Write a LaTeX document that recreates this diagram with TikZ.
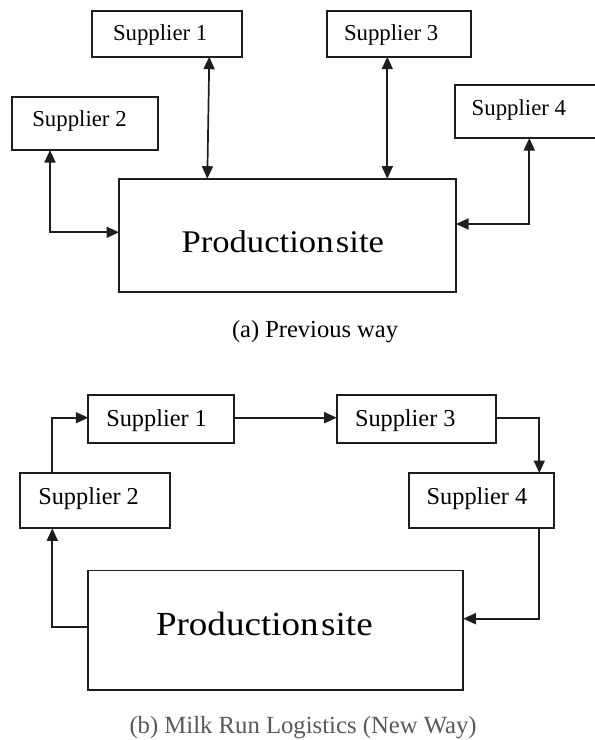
\documentclass[tikz,border=0pt]{standalone}
\usepackage{fontspec}
\setmainfont{Liberation Serif}
\newfontfamily\prodfont[FakeStretch=1.1]{Liberation Serif}
\usetikzlibrary{arrows.meta}
\definecolor{linec}{HTML}{1E1E1E}
\definecolor{capgray}{HTML}{595959}
\begin{document}
\begin{tikzpicture}[x=1pt,y=-1pt,
  box/.style={draw=linec, line width=1.7pt, rectangle, inner sep=0pt, outer sep=0pt, anchor=north west},
  lbl/.style={inner sep=0pt, outer sep=0pt, anchor=base west, text=black},
  suptop/.style={lbl, font=\fontsize{22.8pt}{27pt}\selectfont},
  supbot/.style={lbl, font=\fontsize{24.3pt}{29pt}\selectfont},
  conn/.style={draw=linec, line width=1.7pt},
  >={Triangle[length=12.5pt,width=11pt]}]
\useasboundingbox (0,0) rectangle (595,740);
\clip (0,0) rectangle (595,740);
\fill[white] (0,0) rectangle (595,740);

% ---------- (a) previous way ----------
\node[box, minimum width=149.4pt, minimum height=45.7pt] (s1a) at (92.3,11) {};
\node[box, minimum width=144pt,   minimum height=45.7pt] (s3a) at (327,11) {};
\node[box, minimum width=145.7pt, minimum height=52.7pt] (s2a) at (12,97.3) {};
\node[box, minimum width=165pt,   minimum height=52.7pt] (s4a) at (455.3,85.3) {};
\node[box, minimum width=337pt,   minimum height=113.6pt] (pa) at (119,178.7) {};

\node[suptop] (t1a) at (113,40.7) {Supplier 1};
\node[suptop] (t2a) at (32.3,126.7) {Supplier 2};
\node[suptop] (t3a) at (344,40.7) {Supplier 3};
\node[suptop] (t4a) at (471.7,115) {Supplier 4};
\node[lbl, font=\prodfont\fontsize{31.5pt}{36pt}\selectfont] (tpa) at (181.5,252) {Production\hspace{-0.2em} site};

\draw[conn, <->] ([xshift=117pt]s1a.south west) -- ([xshift=88.3pt]pa.north west);
\draw[conn, <->] ([xshift=60.3pt]s3a.south west) -- ([xshift=268.3pt]pa.north west);
\draw[conn, <->] ([xshift=38pt]s2a.south west) |- ([yshift=-53.6pt]pa.north west);
\draw[conn, <->] ([xshift=74pt]s4a.south west) |- ([yshift=-45.3pt]pa.north east);

\node[lbl, font=\fontsize{24.5pt}{29pt}\selectfont] (capa) at (232,337) {(a) Previous way};

% ---------- (b) milk run ----------
\node[box, minimum width=145.4pt, minimum height=48pt]   (s1b) at (88.3,395.3) {};
\node[box, minimum width=159pt,   minimum height=48pt]   (s3b) at (336.7,395.3) {};
\node[box, minimum width=149.4pt, minimum height=55.3pt] (s2b) at (20.3,473) {};
\node[box, minimum width=145.3pt, minimum height=55.3pt] (s4b) at (408.7,473) {};
\node[box, minimum width=375pt,   minimum height=119.2pt] (pb) at (88.3,570.5) {};

\node[supbot] (t1b) at (106.3,426.7) {Supplier 1};
\node[supbot] (t2b) at (38.3,504) {Supplier 2};
\node[supbot] (t3b) at (355,426.7) {Supplier 3};
\node[supbot] (t4b) at (426.7,504) {Supplier 4};
\node[lbl, font=\prodfont\fontsize{33.7pt}{38pt}\selectfont] (tpb) at (156,635.7) {Production\hspace{-0.2em} site};

\draw[conn, ->] ([yshift=-22.4pt]s1b.north east) -- ([yshift=-22.4pt]s3b.north west);
\draw[conn, ->] ([yshift=-22.4pt]s3b.north east) -| ([xshift=130.6pt]s4b.north west);
\draw[conn, ->] ([xshift=130.3pt]s4b.south west) |- ([yshift=-48.2pt]pb.north east);
\draw[conn, ->] ([yshift=-56.8pt]pb.north west) -| ([xshift=32pt]s2b.south west);
\draw[conn, ->] ([xshift=32pt]s2b.north west) |- ([yshift=-22.4pt]s1b.north west);

\node[lbl, text=capgray, font=\fontsize{24.7pt}{29pt}\selectfont] (capb) at (129.5,733.5) {(b) Milk Run Logistics (New Way)};
\end{tikzpicture}
\end{document}
